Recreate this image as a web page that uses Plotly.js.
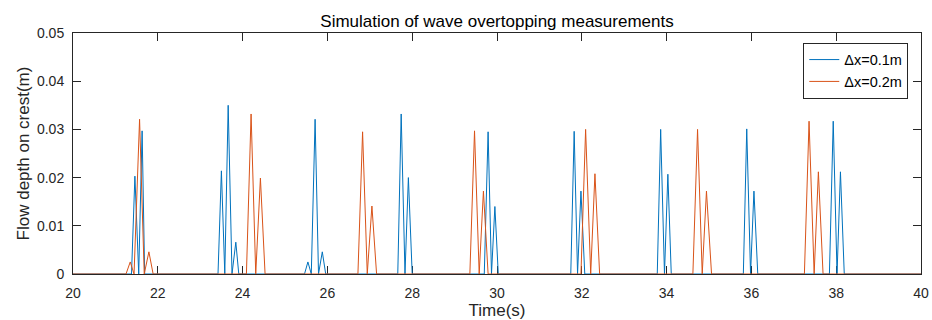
<!DOCTYPE html>
<html>
<head>
<meta charset="utf-8">
<script src="https://cdn.plot.ly/plotly-3.0.1.min.js"></script>
<style>html,body{margin:0;padding:0;background:#fff;}#chart{width:932px;height:320px;}</style>
</head>
<body>
<div id="chart"></div>
<script>
// Δx = 0.1 m series
var timeDx01 = [20,
  21.38, 21.46, 21.55, 21.63, 21.69,
  23.42, 23.50, 23.58, 23.66, 23.75, 23.84, 23.91,
  25.46, 25.54, 25.62, 25.71, 25.79, 25.88, 25.96,
  27.66, 27.74, 27.83, 27.91, 28.00,
  29.70, 29.79, 29.87, 29.95, 30.03,
  31.74, 31.82, 31.90, 31.98, 32.07,
  33.78, 33.86, 33.95, 34.03, 34.11,
  35.81, 35.89, 35.98, 36.06, 36.15,
  37.84, 37.93, 38.02, 38.10, 38.19,
  40];
var depthDx01 = [0,
  0, 0.0203, 0, 0.0297, 0,
  0, 0.0214, 0, 0.0350, 0, 0.0066, 0,
  0, 0.0025, 0, 0.0321, 0, 0.0046, 0,
  0, 0.0332, 0, 0.0200, 0,
  0, 0.0295, 0, 0.0140, 0,
  0, 0.0296, 0, 0.0172, 0,
  0, 0.0300, 0, 0.0207, 0,
  0, 0.0301, 0, 0.0172, 0,
  0, 0.0317, 0, 0.0212, 0,
  0];
// Δx = 0.2 m series
var timeDx02 = [20,
  21.25, 21.35, 21.44, 21.57, 21.68, 21.79, 21.89,
  24.09, 24.20, 24.31, 24.42, 24.53,
  26.72, 26.83, 26.94, 27.05, 27.16,
  29.36, 29.47, 29.58, 29.68, 29.79,
  31.98, 32.09, 32.21, 32.31, 32.42,
  34.62, 34.73, 34.84, 34.94, 35.06,
  37.25, 37.36, 37.48, 37.58, 37.69,
  40];
var depthDx02 = [0,
  0, 0.0025, 0, 0.0321, 0, 0.0046, 0,
  0, 0.0332, 0, 0.0199, 0,
  0, 0.0295, 0, 0.0141, 0,
  0, 0.0297, 0, 0.0172, 0,
  0, 0.0300, 0, 0.0208, 0,
  0, 0.0300, 0, 0.0172, 0,
  0, 0.0317, 0, 0.0212, 0,
  0];
var seriesNames = ['\u0394x=0.1m', '\u0394x=0.2m'];
var xTicks = [20, 22, 24, 26, 28, 30, 32, 34, 36, 38, 40];
var yTicks = [0, 0.01, 0.02, 0.03, 0.04, 0.05];
var yTickText = ['0', '0.01', '0.02', '0.03', '0.04', '0.05'];

var font = 'Liberation Sans, Arial, Helvetica, sans-serif';
var axisColor = '#262626';

var traces = [
  {x: timeDx01, y: depthDx01, name: seriesNames[0], mode: 'lines', type: 'scatter',
   line: {color: '#0072BD', width: 1}},
  {x: timeDx02, y: depthDx02, name: seriesNames[1], mode: 'lines', type: 'scatter',
   line: {color: '#D95319', width: 1}}
];

var axisCommon = {
  showgrid: false, zeroline: false, showline: true, mirror: 'allticks',
  linecolor: axisColor, linewidth: 1, ticks: 'inside', ticklen: 8, tickwidth: 1,
  tickcolor: axisColor, tickfont: {family: font, size: 14, color: axisColor},
  layer: 'below traces', automargin: false
};

var layout = {
  width: 932, height: 320,
  margin: {l: 73, r: 11, t: 33, b: 46, pad: 0},
  paper_bgcolor: '#fff', plot_bgcolor: '#fff',
  title: {text: 'Simulation of wave overtopping measurements',
          font: {family: font, size: 17, color: '#000'},
          xref: 'paper', x: 0.5, xanchor: 'center',
          yref: 'container', y: 0.934, yanchor: 'middle'},
  xaxis: Object.assign({}, axisCommon, {
    range: [20, 40], tickvals: xTicks, ticktext: xTicks.map(String),
    ticklabelstandoff: 6,
    title: {text: 'Time(s)', font: {family: font, size: 17, color: axisColor}, standoff: 3}
  }),
  yaxis: Object.assign({}, axisCommon, {
    range: [0, 0.05], tickvals: yTicks, ticktext: yTickText,
    ticklabelstandoff: 5,
    title: {text: 'Flow depth on crest(m)', font: {family: font, size: 17, color: axisColor}, standoff: 3}
  }),
  showlegend: true,
  legend: {x: 0.985, xanchor: 'right', y: 0.96, yanchor: 'top',
           bgcolor: '#fff', bordercolor: axisColor, borderwidth: 1,
           font: {family: font, size: 14.5, color: '#000'},
           tracegroupgap: 0, itemwidth: 30}
};

Plotly.newPlot('chart', traces, layout, {displayModeBar: false, staticPlot: true});
</script>
</body>
</html>
